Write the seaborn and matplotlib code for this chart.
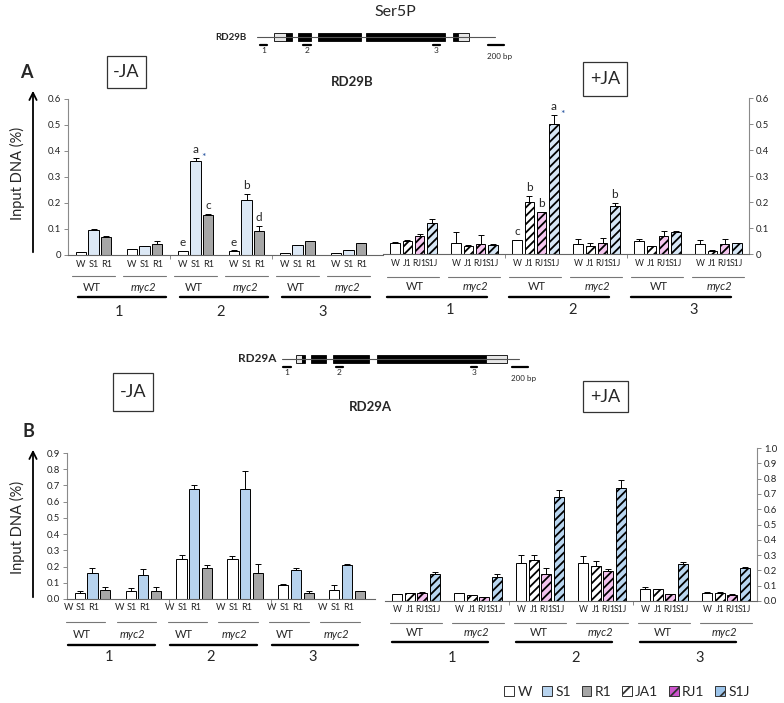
import numpy as np
import pandas as pd
import matplotlib
matplotlib.use('Agg')
import matplotlib.pyplot as plt
import seaborn as sns
from matplotlib.patches import Rectangle, Patch, FancyArrowPatch
from matplotlib.lines import Line2D
from matplotlib.transforms import blended_transform_factory

# ---------------- data ----------------
regions = ['1', '2', '3']
genotypes = ['WT', 'myc2']
minus_conds = ['W', 'S1', 'R1']
plus_conds = ['W', 'J1', 'RJ1', 'S1J']
legend_labels = ['W', 'S1', 'R1', 'JA1', 'RJ1', 'S1J']

# order of groups: region1 WT, region1 myc2, region2 WT, region2 myc2, region3 WT, region3 myc2
a_minus_vals = [0.010, 0.098, 0.070, 0.023, 0.033, 0.042, 0.014, 0.362, 0.155,
                0.017, 0.210, 0.094, 0.006, 0.037, 0.053, 0.007, 0.020, 0.046]
a_minus_err = [0.001, 0.002, 0.002, 0.002, 0.001, 0.010, 0.002, 0.013, 0.002,
               0.001, 0.024, 0.017, 0.001, 0.003, 0.002, 0.001, 0.001, 0.002]
a_minus_letters = ['', '', '', '', '', '', 'e', 'a', 'c', 'e', 'b', 'd', '', '', '', '', '', '']
a_minus_stars = [False] * 7 + [True] + [False] * 10

a_plus_vals = [0.044, 0.050, 0.069, 0.121, 0.042, 0.031, 0.040, 0.036,
               0.053, 0.200, 0.161, 0.501, 0.039, 0.031, 0.044, 0.183,
               0.049, 0.030, 0.069, 0.085, 0.040, 0.012, 0.040, 0.041]
a_plus_err = [0.002, 0.002, 0.008, 0.013, 0.041, 0.002, 0.032, 0.002,
              0.002, 0.023, 0.002, 0.035, 0.019, 0.011, 0.018, 0.013,
              0.008, 0.002, 0.019, 0.002, 0.014, 0.002, 0.017, 0.002]
a_plus_letters = [''] * 8 + ['c', 'b', 'b', 'a', '', '', '', 'b'] + [''] * 8
a_plus_stars = [False] * 11 + [True] + [False] * 12

b_minus_vals = [0.037, 0.160, 0.057, 0.047, 0.151, 0.047, 0.249, 0.681, 0.190,
                0.247, 0.680, 0.160, 0.084, 0.180, 0.037, 0.057, 0.210, 0.047]
b_minus_err = [0.014, 0.030, 0.015, 0.022, 0.033, 0.027, 0.025, 0.020, 0.022,
               0.020, 0.108, 0.057, 0.010, 0.010, 0.010, 0.031, 0.003, 0.003]

b_plus_vals = [0.044, 0.050, 0.055, 0.177, 0.050, 0.039, 0.026, 0.159,
               0.247, 0.266, 0.175, 0.683, 0.247, 0.231, 0.197, 0.738,
               0.079, 0.076, 0.044, 0.242, 0.055, 0.055, 0.041, 0.214]
b_plus_err = [0.002, 0.002, 0.007, 0.011, 0.002, 0.002, 0.002, 0.017,
              0.055, 0.035, 0.039, 0.044, 0.044, 0.030, 0.011, 0.055,
              0.011, 0.003, 0.004, 0.015, 0.004, 0.005, 0.003, 0.011]

# ---------------- style ----------------
sns.set_style('ticks')
plt.rcParams['font.family'] = ['Lato', 'DejaVu Sans']
plt.rcParams['hatch.linewidth'] = 1.3

HATCH = {'W': '', 'S1': '', 'R1': '', 'J1': '////', 'RJ1': '////', 'S1J': '////'}
GRAY = '#8a8a8a'

W, H = 784, 703
fig = plt.figure(figsize=(W / 100, H / 100), dpi=100)
fig.patch.set_facecolor('white')


def fx(x):
    return x / W


def fy(y):
    return 1 - y / H


def add_axes_px(x0, x1, ytop, ybot):
    return fig.add_axes([fx(x0), fy(ybot), (x1 - x0) / W, (ybot - ytop) / H])


def build_df(vals, errs, conds, letters=None, stars=None):
    n = len(conds)
    rows = []
    for i, (v, e) in enumerate(zip(vals, errs)):
        g, k = divmod(i, n)
        rows.append(dict(pos=g * (n + 1) + k + 1, cond=conds[k], group=g, val=v, err=e,
                         letter=letters[i] if letters else '',
                         star=stars[i] if stars else False))
    return pd.DataFrame(rows)


def draw_panel(ax, df, conds, palette):
    sns.barplot(data=df, x='pos', y='val', hue='cond', hue_order=conds, palette=palette,
                native_scale=True, dodge=False, width=0.8, edgecolor='black', linewidth=0.7,
                errorbar=None, legend=False, saturation=1, ax=ax)
    hatch_of = {int(p): HATCH[c] for p, c in zip(df.pos, df.cond)}
    for p in ax.patches:
        xc = p.get_x() + p.get_width() / 2
        p.set_hatch(hatch_of.get(int(round(xc)), ''))
    ax.errorbar(df.pos, df.val, yerr=[np.zeros(len(df)), df.err], fmt='none',
                ecolor='black', elinewidth=0.7, capsize=2, capthick=0.7)
    for _, r in df.iterrows():
        top = r.val + r.err
        if r.letter:
            ax.annotate(r.letter, (r.pos, top), xytext=(0, 2), textcoords='offset points',
                        ha='center', va='bottom', fontsize=8.5)
        if r.star:
            ax.annotate('*', (r.pos, top), xytext=(6, 0), textcoords='offset points',
                        ha='center', va='center', fontsize=7.5, color='#1f4e9c')


def style_axis(ax, side, xlim, ylim, yticks, ylabels, region_ticks, label_pos, label_txt, pad,
               xfs):
    ax.set_xlim(*xlim)
    ax.set_ylim(*ylim)
    ax.set_xlabel('')
    ax.set_ylabel('')
    ax.set_yticks(yticks, ylabels)
    ax.set_xticks(label_pos, label_txt)
    ax.set_xticks(region_ticks, minor=True)
    ax.tick_params(axis='x', which='major', length=0, pad=pad, labelsize=xfs, labelcolor='#222222')
    ax.tick_params(axis='x', which='minor', length=3, width=0.7, color=GRAY, direction='out')
    ax.tick_params(axis='y', length=3, width=0.7, color=GRAY, labelsize=6.8, pad=2,
                   labelcolor='#222222')
    ax.spines['top'].set_visible(False)
    ax.spines['bottom'].set_color('#666666')
    ax.spines['bottom'].set_linewidth(0.8)
    if side == 'left':
        ax.spines['right'].set_visible(False)
        ax.spines['left'].set_color(GRAY)
        ax.spines['left'].set_linewidth(0.8)
    else:
        ax.spines['left'].set_visible(False)
        ax.spines['right'].set_color(GRAY)
        ax.spines['right'].set_linewidth(0.8)
        ax.yaxis.tick_right()
    ax.set_facecolor('none')


def group_annotations(ax, slot, thin, wt_x, thick, num_x, ys):
    tr = blended_transform_factory(ax.transData, fig.transFigure)
    for g in range(6):
        x0, x1 = g * slot + thin[0], g * slot + thin[1]
        fig.add_artist(Line2D([x0, x1], [fy(ys[0])] * 2, transform=tr, color='#777777', lw=0.8))
        fig.text(g * slot + wt_x, fy(ys[1]), genotypes[g % 2], transform=tr, ha='center',
                 va='center', fontsize=8, style='italic' if g % 2 else 'normal')
    for r in range(3):
        x0, x1 = 2 * r * slot + thick[0], 2 * r * slot + thick[1]
        fig.add_artist(Line2D([x0, x1], [fy(ys[2])] * 2, transform=tr, color='black', lw=1.7))
        fig.text(2 * r * slot + num_x, fy(ys[3]), regions[r], transform=tr, ha='center',
                 va='center', fontsize=10.5)


# ---------------- panels ----------------
dfa_m = build_df(a_minus_vals, a_minus_err, minus_conds, a_minus_letters, a_minus_stars)
dfa_p = build_df(a_plus_vals, a_plus_err, plus_conds, a_plus_letters, a_plus_stars)
dfb_m = build_df(b_minus_vals, b_minus_err, minus_conds)
dfb_p = build_df(b_plus_vals, b_plus_err, plus_conds)

pal_a_m = {'W': 'white', 'S1': '#dce8f5', 'R1': '#a6a6a6'}
pal_a_p = {'W': 'white', 'J1': 'white', 'RJ1': '#f4c6ef', 'S1J': '#d6e6f5'}
pal_b_m = {'W': 'white', 'S1': '#b7d3ee', 'R1': '#a6a6a6'}
pal_b_p = {'W': 'white', 'J1': 'white', 'RJ1': '#f2c2ee', 'S1J': '#b9d6f0'}

yt6 = np.round(np.arange(0, 0.61, 0.1), 1)
yl6 = ['0'] + [f'{v:.1f}' for v in yt6[1:]]
yt9 = np.round(np.arange(0, 0.91, 0.1), 1)
yl9 = [f'{v:.1f}' for v in yt9]
yt10 = np.round(np.arange(0, 1.01, 0.1), 1)
yl10 = [f'{v:.1f}' for v in yt10]

axA1 = add_axes_px(68, 383, 99, 255)
draw_panel(axA1, dfa_m, minus_conds, pal_a_m)
style_axis(axA1, 'left', (0, 24.7), (0, 0.6), yt6, yl6, [8, 16],
           dfa_m.pos.values, dfa_m.cond.values, 3.5, 6.6)
group_annotations(axA1, 4, (0.3, 3.7), 1.9, (0.8, 7.7), 4.0, (276, 288, 297, 312))

axA2 = add_axes_px(383, 749, 98, 254)
draw_panel(axA2, dfa_p, plus_conds, pal_a_p)
style_axis(axA2, 'right', (0, 30), (0, 0.6), yt6, yl6, [10, 20],
           dfa_p.pos.values, dfa_p.cond.values, 3.5, 6.2)
group_annotations(axA2, 5, (0.3, 4.6), 2.6, (0.3, 8.5), 5.5, (277, 287, 297, 310))

axB1 = add_axes_px(67, 375, 453, 599)
draw_panel(axB1, dfb_m, minus_conds, pal_b_m)
style_axis(axB1, 'left', (0, 24.2), (0, 0.9), yt9, yl9, [8, 16],
           dfb_m.pos.values - 0.9, dfb_m.cond.values, 3.2, 6.6)
group_annotations(axB1, 4, (-0.1, 3.0), 1.15, (0.1, 6.9), 3.3, (622, 634, 645, 657))

axB2 = add_axes_px(385, 757, 448, 601)
draw_panel(axB2, dfb_p, plus_conds, pal_b_p)
style_axis(axB2, 'right', (0, 30), (0, 1.0), yt10, yl10, [10, 20],
           dfb_p.pos.values, dfb_p.cond.values, 3.2, 6.2)
group_annotations(axB2, 5, (0.4, 4.6), 2.4, (0.6, 8.3), 5.4, (623, 632, 642, 658))

# ---------------- decorations ----------------
for ycen, ybot, ytop in [(173, 255, 88), (527, 600, 447)]:
    fig.text(fx(17), fy(ycen), 'Input DNA (%)', rotation=90, ha='center', va='center',
             fontsize=10.5)
    fig.add_artist(FancyArrowPatch((fx(33), fy(ybot)), (fx(33), fy(ytop)),
                                   transform=fig.transFigure, arrowstyle='->',
                                   mutation_scale=13, lw=1.3, color='black'))


def jabox(x0, x1, y0, y1, txt):
    fig.add_artist(Rectangle((fx(x0), fy(y1)), (x1 - x0) / W, (y1 - y0) / H,
                             transform=fig.transFigure, fill=False, ec='#333333', lw=0.9))
    fig.text(fx((x0 + x1) / 2), fy((y0 + y1) / 2), txt, ha='center', va='center', fontsize=13)


jabox(107, 146, 56, 88, '-JA')
jabox(583, 627, 62, 96, '+JA')
jabox(113, 153, 373, 411, '-JA')
jabox(583, 628, 381, 412, '+JA')

fig.text(fx(26), fy(73), 'A', fontsize=13, fontweight='bold', ha='center', va='center')
fig.text(fx(28), fy(431), 'B', fontsize=13, fontweight='bold', ha='center', va='center')
fig.text(fx(352), fy(82), 'RD29B', fontsize=9.5, fontweight='bold', ha='center', va='center')
fig.text(fx(370), fy(407), 'RD29A', fontsize=9.5, fontweight='bold', ha='center', va='center')
fig.text(fx(395), fy(12), 'Ser5P', fontsize=11.5, ha='center', va='center')


def gene(label, lab_x, lab_fs, yc, line, boxes, marks, scale, bp_y, half=4.2):
    fig.text(fx(lab_x), fy(yc), label, fontsize=lab_fs, fontweight='bold', ha='center',
             va='center')
    fig.add_artist(Line2D([fx(line[0]), fx(line[1])], [fy(yc)] * 2, color='#555555', lw=0.8))
    for x0, x1, col in boxes:
        fig.add_artist(Rectangle((fx(x0), fy(yc + half)), (x1 - x0) / W, 2 * half / H,
                                 transform=fig.transFigure, fc=col, ec='black', lw=0.6))
    for i, (x0, x1) in enumerate(marks):
        fig.add_artist(Line2D([fx(x0), fx(x1)], [fy(yc + 7.5)] * 2, color='black', lw=1.6))
        fig.text(fx((x0 + x1) / 2), fy(yc + 13.5), regions[i], fontsize=6, ha='center',
                 va='center')
    fig.add_artist(Line2D([fx(scale[0]), fx(scale[1])], [fy(yc + 7.5)] * 2, color='black', lw=1.6))
    fig.text(fx(scale[0] + 12), fy(bp_y), '200 bp', fontsize=5.8, ha='center', va='center')


gene('RD29B', 231, 7, 37, (257, 495),
     [(274, 286, '#e6e6e6'), (286, 292, 'black'), (298, 311, 'black'), (318, 361, 'black'),
      (366, 445, 'black'), (453, 458, 'black'), (458, 469, '#e6e6e6')],
     [(260, 267), (303, 311), (433, 440)], (488, 504), 57)
gene('RD29A', 257, 8.5, 359, (282, 519),
     [(296, 302, '#e6e6e6'), (302, 305, 'black'), (311, 326, 'black'), (333, 369, 'black'),
      (377, 486, 'black'), (486, 507, '#e6e6e6')],
     [(283, 291), (336, 343), (471, 477)], (512, 528), 379)

# ---------------- legend ----------------
leg_colors = ['white', '#b7d3ee', '#a6a6a6', 'white', '#cc55cc', '#9cc4ea']
leg_hatch = ['', '', '', '//', '//', '//']
handles = [Patch(facecolor=c, edgecolor='#333333', hatch=h, label=l, lw=0.7)
           for c, h, l in zip(leg_colors, leg_hatch, legend_labels)]
fig.legend(handles=handles, loc='center', bbox_to_anchor=(fx(627), fy(692)), ncol=6,
           frameon=False, fontsize=10, handlelength=0.7, handleheight=0.7,
           handletextpad=0.25, columnspacing=0.75)

fig.savefig('out.png', dpi=100, facecolor='white')
